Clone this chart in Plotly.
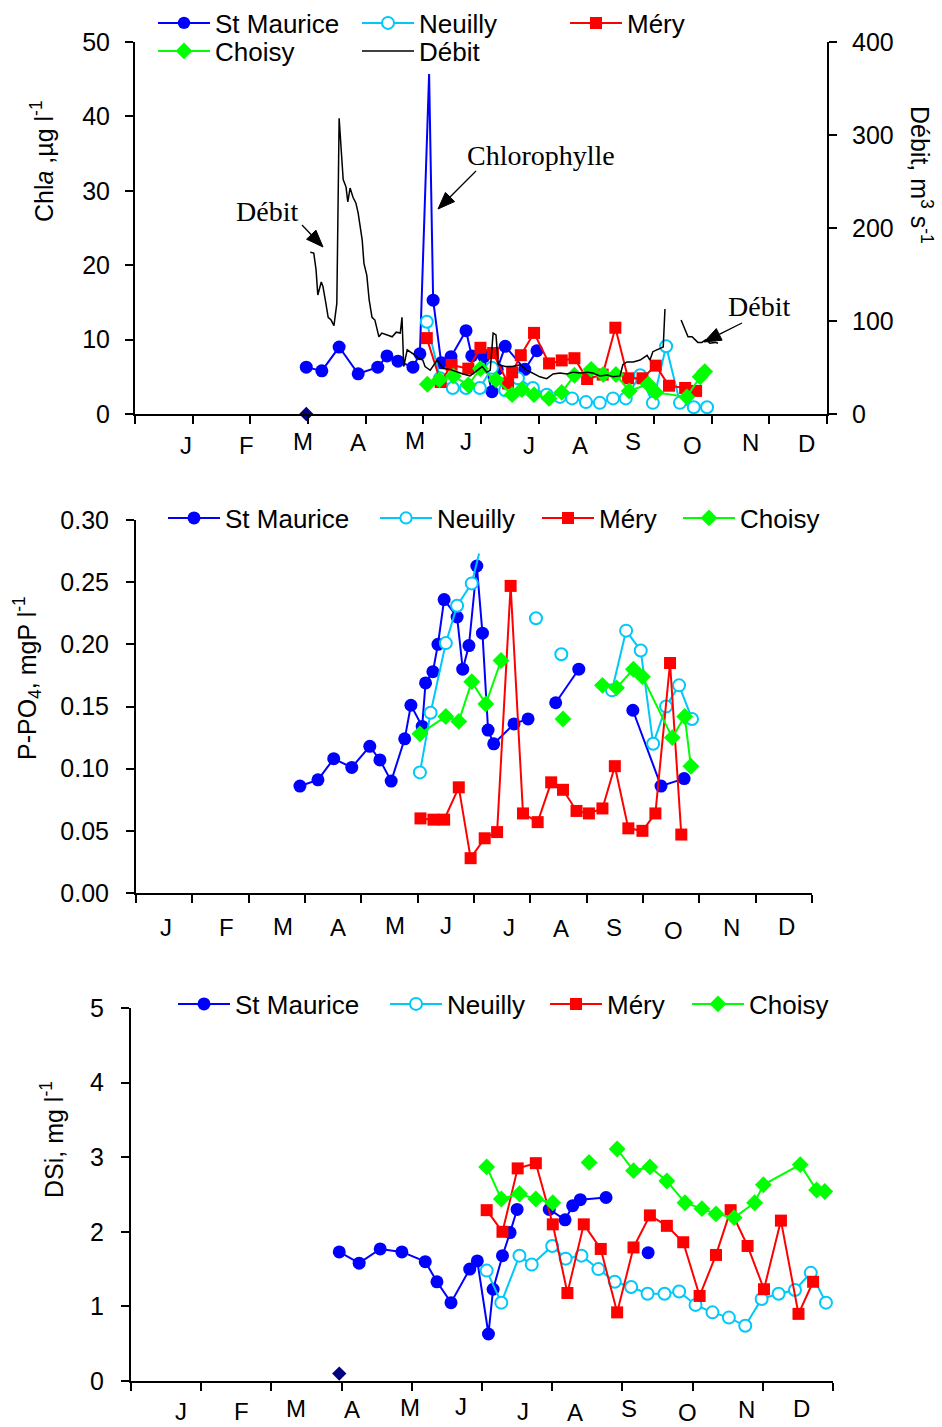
import math
import plotly.graph_objects as go

W, H = 942, 1427

MONTHS = ['J', 'F', 'M', 'A', 'M', 'J', 'J', 'A', 'S', 'O', 'N', 'D']

# ---------------- Top chart: Chla (µg/l) and Débit (m3/s) ----------------
sm1_x = [2.97, 3.24, 3.54, 3.87, 4.21, 4.37, 4.56, 4.82, 4.94, 5.10, 5.17, 5.31, 5.48, 5.74, 5.84, 6.05, 6.19, 6.28, 6.42, 6.76, 6.97]
sm1_y = [6.3, 5.8, 9.0, 5.4, 6.3, 7.8, 7.1, 6.3, 8.1, 45.7, 15.3, 6.9, 7.7, 11.2, 7.8, 7.7, 3.0, 6.0, 9.1, 6.0, 8.5]

ne1_x = [5.06, 5.29, 5.51, 5.74, 5.98, 6.19, 6.42, 6.64, 6.90, 7.14, 7.37, 7.58, 7.82, 8.06, 8.29, 8.51, 8.76, 8.98, 9.21, 9.45, 9.69, 9.92]
ne1_y = [12.4, 4.8, 3.5, 3.5, 3.5, 6.2, 3.2, 4.8, 3.5, 2.6, 2.3, 2.1, 1.6, 1.5, 2.1, 2.1, 5.2, 1.5, 9.1, 1.5, 0.9, 0.9]

me1_x = [5.06, 5.30, 5.49, 5.78, 5.99, 6.21, 6.47, 6.54, 6.69, 6.92, 7.18, 7.40, 7.62, 7.84, 8.11, 8.33, 8.55, 8.80, 9.03, 9.26, 9.54, 9.73]
me1_y = [10.2, 4.3, 6.6, 6.1, 8.9, 8.2, 4.1, 5.6, 7.9, 10.9, 6.8, 7.2, 7.5, 4.7, 5.3, 11.6, 4.8, 4.8, 6.5, 3.8, 3.5, 3.1]

ch1_x = [5.07, 5.28, 5.52, 5.78, 5.99, 6.26, 6.54, 6.71, 6.92, 7.18, 7.40, 7.62, 7.91, 8.12, 8.34, 8.57, 8.90, 9.03, 9.57, 9.80, 9.88]
ch1_y = [4.0, 4.6, 5.1, 3.9, 6.1, 4.6, 2.6, 3.3, 2.6, 2.1, 2.9, 5.2, 6.0, 5.3, 5.3, 3.1, 4.0, 2.9, 2.3, 5.0, 5.7]

ref1_x = [2.97]
ref1_y = [0.0]

deb_x = [3.04, 3.10, 3.14, 3.17, 3.23, 3.26, 3.31, 3.35, 3.40, 3.45, 3.50, 3.54, 3.61, 3.66, 3.69, 3.73,
         3.78, 3.83, 3.87, 3.94, 3.97, 4.02, 4.06, 4.11, 4.16, 4.23, 4.28, 4.37, 4.46, 4.53, 4.60, 4.63,
         4.66, 4.72, 4.80, 4.86, 4.91, 4.99, 5.03, 5.12, 5.24, 5.34, 5.46, 5.58, 5.69, 5.81, 5.90, 6.02,
         6.10, 6.16, 6.21, 6.26, 6.30, 6.42, 6.54, 6.68, 6.80, 6.90, 7.02, 7.14, 7.25, 7.37, 7.49, 7.60,
         7.72, 7.84, 7.94, 8.06, 8.19, 8.29, 8.41, 8.46, 8.53, 8.64, 8.76, 8.88, 8.93, 8.98, 9.05, 9.10,
         9.16, 9.19, None,
         9.47, 9.52, 9.59, 9.66, 9.71, 9.76, 9.83, 9.90, 9.97, 10.06, 10.11]
deb_y = [174, 173, 155, 128, 142, 137, 119, 104, 101, 95, 119, 318, 252, 244, 228, 243,
         233, 227, 216, 187, 162, 149, 123, 104, 101, 83, 87, 85, 83, 88, 87, 104,
         51, 69, 66, 63, 60, 58, 51, 47, 58, 49, 48, 45, 43, 41, 45, 51,
         45, 47, 87, 85, 53, 51, 51, 53, 47, 44, 40, 38, 43, 44, 43, 45,
         44, 45, 44, 41, 42, 40, 41, 53, 56, 56, 58, 63, 58, 67, 69, 71,
         72, 113, None,
         101, 94, 83, 83, 80, 77, 77, 80, 76, 77, 76]

# ---------------- Middle chart: P-PO4 (mgP/l) ----------------
sm2_x = [2.91, 3.23, 3.51, 3.83, 4.15, 4.33, 4.53, 4.77, 4.88, 5.08, 5.14, 5.27, 5.36, 5.47, 5.70, 5.80, 5.91, 6.05, 6.15, 6.25, 6.35, 6.71, 6.96, None, 7.45, 7.86, None, 8.82, 9.32, 9.73]
sm2_y = [0.086, 0.091, 0.108, 0.101, 0.118, 0.107, 0.090, 0.124, 0.151, 0.134, 0.169, 0.178, 0.200, 0.236, 0.222, 0.180, 0.199, 0.263, 0.209, 0.131, 0.120, 0.136, 0.140, None, 0.153, 0.180, None, 0.147, 0.086, 0.092]

ne2_x = [5.04, 5.23, 5.50, 5.70, 5.96, 6.09, None, 7.10, None, 7.55, None, 8.45, 8.70, 8.96, 9.18, 9.41, 9.64, 9.87]
ne2_y = [0.097, 0.145, 0.201, 0.231, 0.249, 0.273, None, 0.221, None, 0.192, None, 0.163, 0.211, 0.195, 0.120, 0.150, 0.167, 0.140]

me2_x = [5.05, 5.28, 5.47, 5.73, 5.94, 6.19, 6.41, 6.65, 6.87, 7.13, 7.37, 7.58, 7.82, 8.04, 8.28, 8.50, 8.74, 8.99, 9.22, 9.48, 9.68]
me2_y = [0.060, 0.059, 0.059, 0.085, 0.028, 0.044, 0.049, 0.247, 0.064, 0.057, 0.089, 0.083, 0.066, 0.064, 0.068, 0.102, 0.052, 0.050, 0.064, 0.185, 0.047]

ch2_x = [5.04, 5.50, 5.73, 5.96, 6.21, 6.48, None, 7.58, None, 8.28, 8.53, 8.83, 8.99, 9.52, 9.74, 9.85]
ch2_y = [0.128, 0.142, 0.138, 0.170, 0.152, 0.187, None, 0.140, None, 0.167, 0.165, 0.180, 0.174, 0.125, 0.142, 0.102]

# ---------------- Bottom chart: DSi (mg/l) ----------------
sm3_x = [3.56, 3.90, 4.26, 4.63, 5.03, 5.23, 5.47, 5.79, 5.92, 6.11, 6.19, 6.35, 6.48, 6.60, None, 7.15, 7.42, 7.55, 7.68, 8.12, None, 8.84]
sm3_y = [1.73, 1.58, 1.77, 1.73, 1.60, 1.33, 1.05, 1.50, 1.61, 0.63, 1.23, 1.68, 1.99, 2.30, None, 2.30, 2.16, 2.35, 2.43, 2.46, None, 1.72]

ne3_x = [6.08, 6.33, 6.64, 6.85, 7.20, 7.43, 7.70, 7.99, 8.27, 8.55, 8.83, 9.12, 9.37, 9.65, 9.94, 10.22, 10.50, 10.78, 11.07, 11.35, 11.62, 11.88]
ne3_y = [1.48, 1.05, 1.68, 1.56, 1.81, 1.64, 1.68, 1.50, 1.33, 1.26, 1.17, 1.17, 1.20, 1.02, 0.92, 0.85, 0.74, 1.10, 1.17, 1.22, 1.45, 1.05]

me3_x = [6.08, 6.35, 6.61, 6.92, 7.21, 7.46, 7.74, 8.03, 8.31, 8.59, 8.87, 9.16, 9.44, 9.72, 10.00, 10.25, 10.54, 10.82, 11.11, 11.41, 11.66]
me3_y = [2.29, 2.00, 2.85, 2.92, 2.10, 1.18, 2.10, 1.77, 0.92, 1.79, 2.22, 2.08, 1.86, 1.14, 1.69, 2.29, 1.81, 1.23, 2.15, 0.90, 1.33]

ch3_x = [6.08, 6.33, 6.64, 6.92, 7.21, None, 7.83, None, 8.31, 8.59, 8.87, 9.16, 9.47, 9.76, 10.00, 10.31, 10.66, 10.81, 11.44, 11.72, 11.86]
ch3_y = [2.87, 2.44, 2.51, 2.44, 2.39, None, 2.93, None, 3.11, 2.82, 2.87, 2.68, 2.39, 2.31, 2.24, 2.19, 2.39, 2.63, 2.90, 2.56, 2.54]

ref3_x = [3.56]
ref3_y = [0.10]

# ---------------- styling ----------------
BLUE = '#0000FF'
CYAN = '#00C8F8'
RED = '#FF0000'
GREEN = '#00FF00'
NAVY = '#000080'
SANS = 'Liberation Sans, Arial, sans-serif'
SERIF = 'Liberation Serif, Times New Roman, serif'


def px(x):
    return x / W


def py(y):
    return 1 - y / H


def series(name, x, y, color, symbol, xa, ya, legend, sizes=None, fill=None, msize=12):
    size = sizes if sizes is not None else msize
    mk = dict(symbol=symbol, size=size, color=fill or color, opacity=1,
              line=dict(color=color, width=2 if fill else 0))
    return go.Scatter(
        x=x, y=y, name=name, mode='lines+markers', xaxis=xa, yaxis=ya,
        line=dict(color=color, width=2), marker=mk, legend=legend,
        cliponaxis=False, connectgaps=False)


fig = go.Figure()

# top chart
sm1_sizes = [13] * len(sm1_x)
sm1_sizes[sm1_y.index(max(sm1_y))] = 0
fig.add_trace(series('St Maurice', sm1_x, sm1_y, BLUE, 'circle', 'x', 'y', 'legend', sizes=sm1_sizes))
fig.add_trace(series('Neuilly', ne1_x, ne1_y, CYAN, 'circle', 'x', 'y', 'legend2', fill='white'))
fig.add_trace(series('Méry', me1_x, me1_y, RED, 'square', 'x', 'y', 'legend3'))
fig.add_trace(series('Choisy', ch1_x, ch1_y, GREEN, 'diamond', 'x', 'y', 'legend4', msize=13))
fig.add_trace(go.Scatter(x=ref1_x, y=ref1_y, mode='markers', xaxis='x', yaxis='y', showlegend=False,
                         marker=dict(symbol='diamond', size=11, color=NAVY), cliponaxis=False))
fig.add_trace(go.Scatter(x=deb_x, y=deb_y, name='Débit', mode='lines', xaxis='x', yaxis='y2',
                         line=dict(color='black', width=1.5), legend='legend5', connectgaps=False))

# middle chart
ne2_sizes = [12] * len(ne2_x)
ne2_sizes[ne2_y.index(0.273)] = 0
fig.add_trace(series('St Maurice', sm2_x, sm2_y, BLUE, 'circle', 'x2', 'y3', 'legend6', msize=13))
fig.add_trace(series('Neuilly', ne2_x, ne2_y, CYAN, 'circle', 'x2', 'y3', 'legend7', sizes=ne2_sizes, fill='white'))
fig.add_trace(series('Méry', me2_x, me2_y, RED, 'square', 'x2', 'y3', 'legend8'))
fig.add_trace(series('Choisy', ch2_x, ch2_y, GREEN, 'diamond', 'x2', 'y3', 'legend9', msize=13))

# bottom chart
fig.add_trace(series('St Maurice', sm3_x, sm3_y, BLUE, 'circle', 'x3', 'y4', 'legend10', msize=13))
fig.add_trace(series('Neuilly', ne3_x, ne3_y, CYAN, 'circle', 'x3', 'y4', 'legend11', fill='white'))
fig.add_trace(series('Méry', me3_x, me3_y, RED, 'square', 'x3', 'y4', 'legend12'))
fig.add_trace(series('Choisy', ch3_x, ch3_y, GREEN, 'diamond', 'x3', 'y4', 'legend13', msize=13))
fig.add_trace(go.Scatter(x=ref3_x, y=ref3_y, mode='markers', xaxis='x3', yaxis='y4', showlegend=False,
                         marker=dict(symbol='diamond', size=11, color=NAVY), cliponaxis=False))

axis_common = dict(showline=True, linecolor='black', linewidth=2, ticks='outside', ticklen=8,
                   tickwidth=1.5, tickcolor='black', showgrid=False, zeroline=False,
                   tickfont=dict(family=SANS, size=25, color='black'))
xcommon = dict(axis_common, showticklabels=False, range=[0, 12])

layout = dict(
    width=W, height=H, margin=dict(l=0, r=0, t=0, b=0, autoexpand=False),
    paper_bgcolor='white', plot_bgcolor='white',
    font=dict(family=SANS, size=25, color='black'),
    xaxis=dict(xcommon, domain=[px(135), px(827)], anchor='y', tickvals=list(range(13))),
    yaxis=dict(axis_common, domain=[py(414), py(42)], anchor='x', range=[0, 50], dtick=10,
               ticklabelstandoff=10),
    yaxis2=dict(axis_common, overlaying='y', side='right', anchor='x', range=[0, 400], dtick=100,
                ticklabelstandoff=10),
    xaxis2=dict(xcommon, domain=[px(136), px(812)], anchor='y3', tickvals=list(range(13))),
    yaxis3=dict(axis_common, domain=[py(893), py(520)], anchor='x2', range=[0, 0.30], dtick=0.05,
                tickformat='.2f', ticklabelstandoff=12),
    xaxis3=dict(xcommon, domain=[px(131), px(833)], anchor='y4',
                tickvals=[i * 1.2 for i in range(11)]),
    yaxis4=dict(axis_common, domain=[py(1381), py(1008)], anchor='x3', range=[0, 5], dtick=1,
                ticklabelstandoff=12),
)

# one legend per entry, placed where the reference draws it
legend_spots = {
    'legend': (158, 23), 'legend2': (362, 23), 'legend3': (570, 23),
    'legend4': (158, 51), 'legend5': (362, 51),
    'legend6': (168, 518), 'legend7': (380, 518), 'legend8': (542, 518), 'legend9': (683, 518),
    'legend10': (178, 1004), 'legend11': (390, 1004), 'legend12': (550, 1004), 'legend13': (692, 1004),
}
for key, (lx, ly) in legend_spots.items():
    layout[key] = dict(x=px(lx - 5), y=py(ly), xanchor='left', yanchor='middle',
                       bgcolor='rgba(0,0,0,0)', borderwidth=0, itemwidth=52,
                       font=dict(family=SANS, size=26, color='black'), tracegroupgap=0)

annotations = []
# month letters
month_pos = {
    'x': ([186, 246, 303, 358, 415, 466, 529, 580, 633, 692, 750, 806],
          [445, 445, 441, 442, 440, 441, 445, 446, 441, 446, 442, 443]),
    'x2': ([166, 226, 283, 338, 395, 446, 509, 561, 614, 673, 731, 786],
           [927, 927, 926, 927, 925, 925, 927, 929, 927, 930, 927, 926]),
    'x3': ([181, 241, 296, 352, 410, 461, 523, 575, 629, 687, 746, 801],
           [1411, 1411, 1408, 1409, 1407, 1406, 1411, 1412, 1408, 1412, 1409, 1408]),
}
for xa, (xs, ys) in month_pos.items():
    for lab, xpix, ypix in zip(MONTHS, xs, ys):
        annotations.append(dict(text=lab, xref='paper', yref='paper', x=px(xpix), y=py(ypix),
                                showarrow=False, xanchor='center', yanchor='middle',
                                font=dict(family=SANS, size=24, color='black')))

# axis titles
titles = [
    ('Chl<i>a</i> ,µg l<sup>-1</sup>', 42, 161, -90),
    ('Débit, m<sup>3</sup> s<sup>-1</sup>', 921, 175, 90),
    ('P-PO<sub>4</sub>, mgP l<sup>-1</sup>', 27, 678, -90),
    ('DSi, mg l<sup>-1</sup>', 52, 1140, -90),
]
for txt, xpix, ypix, ang in titles:
    annotations.append(dict(text=txt, xref='paper', yref='paper', x=px(xpix), y=py(ypix),
                            showarrow=False, textangle=ang, xanchor='center', yanchor='middle',
                            font=dict(family=SANS, size=25, color='black')))

# callouts
callouts = [('Débit', 267, 211), ('Chlorophylle', 541, 155), ('Débit', 759, 306)]
for txt, xpix, ypix in callouts:
    annotations.append(dict(text=txt, xref='paper', yref='paper', x=px(xpix), y=py(ypix),
                            showarrow=False, xanchor='center', yanchor='middle',
                            font=dict(family=SERIF, size=28, color='black')))
layout['annotations'] = annotations

# arrows drawn as shapes (shaft + filled head)
shapes = []
arrows = [((323, 247), (302, 225)), ((438, 209), (476, 171)), ((704, 342), (742, 323))]
for (tx, ty), (sx, sy) in arrows:
    d = math.hypot(tx - sx, ty - sy)
    ux, uy = (tx - sx) / d, (ty - sy) / d
    hl, hw = 17, 6.5
    bx, by = tx - ux * hl, ty - uy * hl
    nx, ny = -uy, ux
    shapes.append(dict(type='line', xref='paper', yref='paper', x0=px(sx), y0=py(sy),
                       x1=px(bx), y1=py(by), line=dict(color='black', width=1.3)))
    p1 = (bx + nx * hw, by + ny * hw)
    p2 = (bx - nx * hw, by - ny * hw)
    path = 'M {} {} L {} {} L {} {} Z'.format(px(tx), py(ty), px(p1[0]), py(p1[1]), px(p2[0]), py(p2[1]))
    shapes.append(dict(type='path', xref='paper', yref='paper', path=path,
                       fillcolor='black', line=dict(color='black', width=1)))
layout['shapes'] = shapes

fig.update_layout(**layout)
fig.write_html('out.html')
